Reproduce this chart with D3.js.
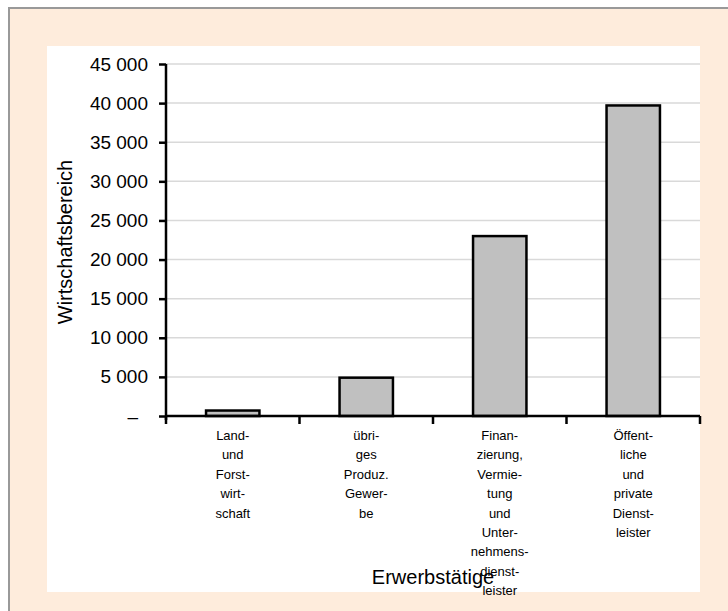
<!DOCTYPE html>
<html lang="de">
  <head>
    <meta charset="utf-8">
    <title>Erwerbstätige</title>
    <style>
      body {
        margin: 0;
        background: #ffffff;
      }
      svg {
        display: block;
        font-family: "Liberation Sans", Arial, sans-serif;
      }
      .bar {
        fill: #c0c0c0;
        stroke: #000;
        stroke-width: 2.5px;
      }
    </style>
  </head>
  <body>
    <script src="https://d3js.org/d3.v7.min.js"></script>
    <script>
      // data
      const categories = ["Land", "Produz", "Finanz", "Dienst"];
      const labelLines = [
        ["Land-", "und", "Forst-", "wirt-", "schaft"],
        ["übri-", "ges", "Produz.", "Gewer-", "be"],
        ["Finan-", "zierung,", "Vermie-", "tung", "und", "Unter-", "nehmens-", "dienst-", "leister"],
        ["Öffent-", "liche", "und", "private", "Dienst-", "leister"]
      ];
      const values = [700, 4900, 23000, 39700];
      const yTicks = [0, 5000, 10000, 15000, 20000, 25000, 30000, 35000, 40000, 45000];

      const w = 728;
      const h = 611;
      const plotLeft = 166, plotRight = 700, plotTop = 64, plotBottom = 416;

      const svg = d3.select("body")
        .append("svg")
        .attr("width", w)
        .attr("height", h);

      // frame + plot area
      svg.append("rect")
        .attr("x", 9).attr("y", 8)
        .attr("width", w + 20).attr("height", h + 20)
        .attr("fill", "#feecdc")
        .attr("stroke", "#999")
        .attr("stroke-width", 2);
      svg.append("rect")
        .attr("x", 47).attr("y", 46)
        .attr("width", 653).attr("height", 546)
        .attr("fill", "#ffffff");

      const xScale = d3.scaleBand()
        .domain(categories)
        .range([plotLeft, plotRight])
        .paddingInner(0.6)
        .paddingOuter(0.3);

      const yScale = d3.scaleLinear()
        .domain([0, 45000])
        .range([plotBottom, plotTop]);

      // gridlines
      svg.append("g")
        .selectAll("line")
        .data(yTicks.slice(1))
        .enter()
        .append("line")
        .attr("x1", plotLeft)
        .attr("x2", plotRight)
        .attr("y1", d => yScale(d))
        .attr("y2", d => yScale(d))
        .attr("stroke", "#d9d9d9")
        .attr("stroke-width", 1.5);

      // bars
      svg.selectAll(".bar")
        .data(values)
        .enter()
        .append("rect")
        .attr("class", "bar")
        .attr("x", (d, i) => xScale(categories[i]))
        .attr("y", d => yScale(d))
        .attr("width", xScale.bandwidth())
        .attr("height", d => yScale(0) - yScale(d));

      // y axis
      const fmt = d => d === 0 ? "–" : d3.format(",")(d).replace(",", " ");
      const yAxis = d3.axisLeft(yScale)
        .tickValues(yTicks)
        .tickFormat(fmt)
        .tickSize(7)
        .tickPadding(11);

      const yG = svg.append("g")
        .attr("transform", `translate(${plotLeft}, 0)`)
        .call(yAxis);
      yG.select(".domain").remove();
      yG.selectAll(".tick line").attr("stroke", "#000").attr("stroke-width", 2.5);
      yG.selectAll(".tick text")
        .attr("font-size", "19px")
        .attr("fill", "#000")
        .attr("dx", d => d === 0 ? -10 : 0);
      svg.append("line")
        .attr("x1", plotLeft).attr("x2", plotLeft)
        .attr("y1", plotTop).attr("y2", plotBottom + 4)
        .attr("stroke", "#000")
        .attr("stroke-width", 2.5);

      // x axis: ticks at category boundaries
      const step = (plotRight - plotLeft) / categories.length;
      svg.append("line")
        .attr("x1", plotLeft).attr("x2", plotRight)
        .attr("y1", plotBottom).attr("y2", plotBottom)
        .attr("stroke", "#000")
        .attr("stroke-width", 2.5);
      svg.append("g")
        .selectAll("line")
        .data(d3.range(categories.length + 1))
        .enter()
        .append("line")
        .attr("x1", i => plotLeft + i * step)
        .attr("x2", i => plotLeft + i * step)
        .attr("y1", plotBottom)
        .attr("y2", plotBottom + 8)
        .attr("stroke", "#000")
        .attr("stroke-width", 2.5);

      // category labels
      labelLines.forEach((lines, i) => {
        const cx = xScale(categories[i]) + xScale.bandwidth() / 2;
        svg.append("text")
          .attr("x", cx)
          .attr("y", 440)
          .attr("text-anchor", "middle")
          .attr("font-size", "13px")
          .selectAll("tspan")
          .data(lines)
          .enter()
          .append("tspan")
          .attr("x", cx)
          .attr("dy", (d, j) => j === 0 ? 0 : 19.4)
          .text(d => d);
      });

      // axis titles
      svg.append("text")
        .attr("transform", "translate(72, 242) rotate(-90)")
        .attr("text-anchor", "middle")
        .attr("font-size", "20px")
        .text("Wirtschaftsbereich");

      svg.append("text")
        .attr("x", (plotLeft + plotRight) / 2)
        .attr("y", 584)
        .attr("text-anchor", "middle")
        .attr("font-size", "20px")
        .text("Erwerbstätige");
    </script>
  </body>
</html>
